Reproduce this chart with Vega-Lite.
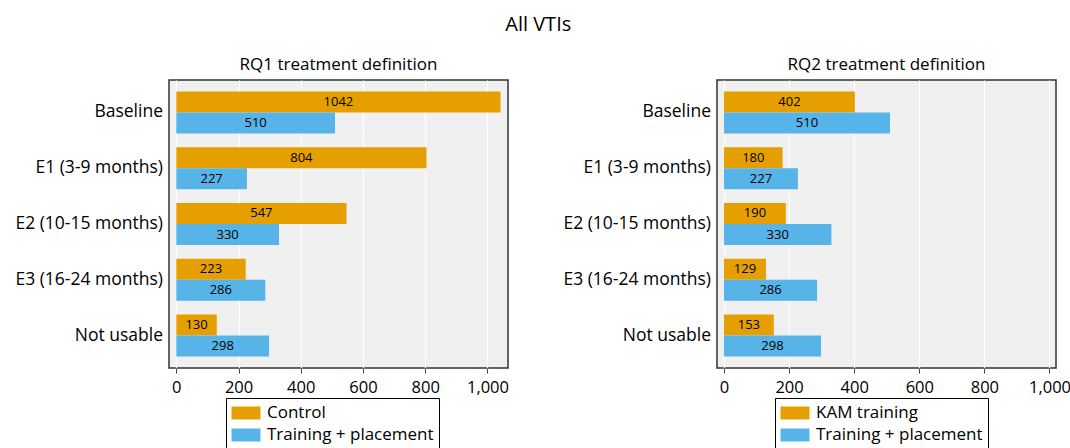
{
  "$schema": "https://vega.github.io/schema/vega-lite/v6.json",
  "padding": {"left": 5, "top": 15, "right": 2, "bottom": 5},
  "background": "white",
  "config": {
    "font": "Open Sans",
    "view": {"fill": "#f0f0f0", "stroke": "#333333", "strokeWidth": 1.5},
    "title": {"font": "Open Sans", "fontWeight": "normal", "color": "black"},
    "axis": {"labelFont": "Open Sans", "labelColor": "black"},
    "legend": {"labelFont": "Open Sans"}
  },
  "title": {"text": "All VTIs", "fontSize": 20, "anchor": "middle", "offset": 20},
  "spacing": 43,
  "resolve": {"scale": {"color": "independent", "x": "independent", "y": "independent", "yOffset": "independent"}},
  "hconcat": [
    {
      "title": {"text": "RQ1 treatment definition", "fontSize": 17, "offset": 6},
      "width": 339,
      "height": 288,
      "data": {"values": [
        {"cat": "Baseline", "group": "Control", "value": 1042},
        {"cat": "Baseline", "group": "Training + placement", "value": 510},
        {"cat": "E1 (3-9 months)", "group": "Control", "value": 804},
        {"cat": "E1 (3-9 months)", "group": "Training + placement", "value": 227},
        {"cat": "E2 (10-15 months)", "group": "Control", "value": 547},
        {"cat": "E2 (10-15 months)", "group": "Training + placement", "value": 330},
        {"cat": "E3 (16-24 months)", "group": "Control", "value": 223},
        {"cat": "E3 (16-24 months)", "group": "Training + placement", "value": 286},
        {"cat": "Not usable", "group": "Control", "value": 130},
        {"cat": "Not usable", "group": "Training + placement", "value": 298}
      ]},
      "encoding": {
        "y": {"field": "cat", "type": "nominal", "sort": ["Baseline", "E1 (3-9 months)", "E2 (10-15 months)", "E3 (16-24 months)", "Not usable"],
              "scale": {"paddingInner": 0.2466, "paddingOuter": 0.206},
              "axis": {"title": null, "ticks": false, "domain": false, "grid": false, "labelFontSize": 17.5, "labelPadding": 6.5, "labelLimit": 300, "minExtent": 163, "maxExtent": 163}},
        "yOffset": {"field": "group", "type": "nominal", "sort": ["Control", "Training + placement"], "scale": {"paddingInner": 0, "paddingOuter": 0}}
      },
      "layer": [
        {
          "mark": {"type": "bar"},
          "encoding": {
            "x": {"field": "value", "type": "quantitative", "scale": {"domain": [-23.5, 1066], "nice": false, "zero": false},
                  "axis": {"title": null, "values": [0, 200, 400, 600, 800, 1000], "format": ",d", "domain": false, "grid": true, "gridColor": "white", "gridWidth": 1.2, "gridOpacity": 1, "tickColor": "#444444", "tickSize": 5, "labelFontSize": 16.5, "labelPadding": 6, "labelFlush": false}},
            "x2": {"datum": 0},
            "color": {"field": "group", "type": "nominal", "sort": ["Control", "Training + placement"],
                      "scale": {"domain": ["Control", "Training + placement"], "range": ["#E69F00", "#56B4E9"]},
                      "legend": {"orient": "none", "legendX": 57, "legendY": 318, "title": null, "direction": "vertical",
                                 "strokeColor": "black", "fillColor": "white", "padding": 5, "labelFontSize": 17, "labelColor": "black", "labelLimit": 400,
                                 "symbolType": "M-1.45,-0.65H1.45V0.65H-1.45Z", "symbolSize": 400, "symbolStrokeWidth": 0, "symbolOffset": 5, "labelOffset": 11, "rowPadding": 4}}
          }
        },
        {
          "mark": {"type": "text", "fontSize": 13, "color": "black", "font": "Open Sans"},
          "encoding": {
            "x": {"field": "value", "type": "quantitative", "scale": {"domain": [-47, 2132], "nice": false, "zero": false}, "axis": null},
            "text": {"field": "value", "type": "quantitative", "format": "d"}
          }
        }
      ],
      "resolve": {"scale": {"x": "independent"}}
    },
    {
      "title": {"text": "RQ2 treatment definition", "fontSize": 17, "offset": 6},
      "width": 339,
      "height": 288,
      "data": {"values": [
        {"cat": "Baseline", "group": "KAM training", "value": 402},
        {"cat": "Baseline", "group": "Training + placement", "value": 510},
        {"cat": "E1 (3-9 months)", "group": "KAM training", "value": 180},
        {"cat": "E1 (3-9 months)", "group": "Training + placement", "value": 227},
        {"cat": "E2 (10-15 months)", "group": "KAM training", "value": 190},
        {"cat": "E2 (10-15 months)", "group": "Training + placement", "value": 330},
        {"cat": "E3 (16-24 months)", "group": "KAM training", "value": 129},
        {"cat": "E3 (16-24 months)", "group": "Training + placement", "value": 286},
        {"cat": "Not usable", "group": "KAM training", "value": 153},
        {"cat": "Not usable", "group": "Training + placement", "value": 298}
      ]},
      "encoding": {
        "y": {"field": "cat", "type": "nominal", "sort": ["Baseline", "E1 (3-9 months)", "E2 (10-15 months)", "E3 (16-24 months)", "Not usable"],
              "scale": {"paddingInner": 0.2466, "paddingOuter": 0.206},
              "axis": {"title": null, "ticks": false, "domain": false, "grid": false, "labelFontSize": 17.5, "labelPadding": 6.5, "labelLimit": 300, "minExtent": 163, "maxExtent": 163}},
        "yOffset": {"field": "group", "type": "nominal", "sort": ["KAM training", "Training + placement"], "scale": {"paddingInner": 0, "paddingOuter": 0}}
      },
      "layer": [
        {
          "mark": {"type": "bar"},
          "encoding": {
            "x": {"field": "value", "type": "quantitative", "scale": {"domain": [-21.5, 1020], "nice": false, "zero": false},
                  "axis": {"title": null, "values": [0, 200, 400, 600, 800, 1000], "format": ",d", "domain": false, "grid": true, "gridColor": "white", "gridWidth": 1.2, "gridOpacity": 1, "tickColor": "#444444", "tickSize": 5, "labelFontSize": 16.5, "labelPadding": 6, "labelFlush": false}},
            "x2": {"datum": 0},
            "color": {"field": "group", "type": "nominal", "sort": ["KAM training", "Training + placement"],
                      "scale": {"domain": ["KAM training", "Training + placement"], "range": ["#E69F00", "#56B4E9"]},
                      "legend": {"orient": "none", "legendX": 58, "legendY": 318, "title": null, "direction": "vertical",
                                 "strokeColor": "black", "fillColor": "white", "padding": 5, "labelFontSize": 17, "labelColor": "black", "labelLimit": 400,
                                 "symbolType": "M-1.45,-0.65H1.45V0.65H-1.45Z", "symbolSize": 400, "symbolStrokeWidth": 0, "symbolOffset": 5, "labelOffset": 11, "rowPadding": 4}}
          }
        },
        {
          "mark": {"type": "text", "fontSize": 13, "color": "black", "font": "Open Sans"},
          "encoding": {
            "x": {"field": "value", "type": "quantitative", "scale": {"domain": [-43, 2040], "nice": false, "zero": false}, "axis": null},
            "text": {"field": "value", "type": "quantitative", "format": "d"}
          }
        }
      ],
      "resolve": {"scale": {"x": "independent"}}
    }
  ]
}
